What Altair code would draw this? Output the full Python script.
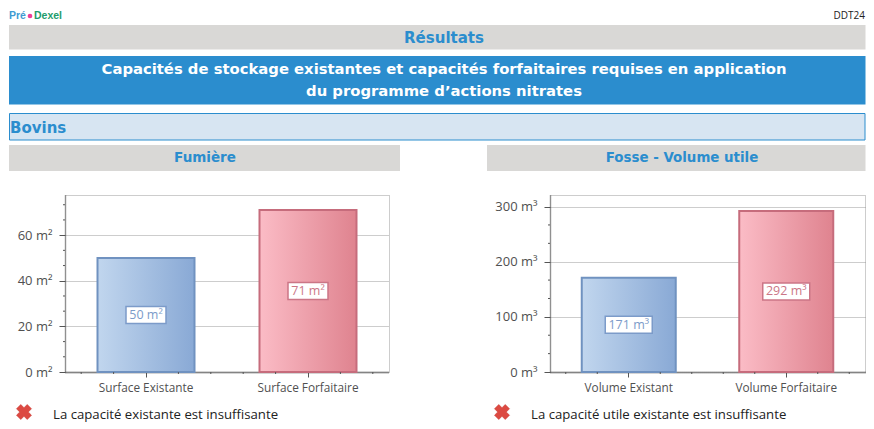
import altair as alt
import pandas as pd

# ---- chart values ----
left_categories = ["Surface Existante", "Surface Forfaitaire"]
left_values = [50, 71]
left_labels = ["50 m²", "71 m²"]
left_unit = "m²"
left_major = [0, 20, 40, 60]
left_minor = [6.67, 13.33, 26.67, 33.33, 46.67, 53.33, 66.67, 73.33]

right_categories = ["Volume Existant", "Volume Forfaitaire"]
right_values = [171, 292]
right_labels = ["171 m³", "292 m³"]
right_unit = "m³"
right_major = [0, 100, 200, 300]
right_minor = [33.3, 66.7, 133.3, 166.7, 233.3, 266.7]

minor_fracs = [0.05, 0.15, 0.35, 0.45, 0.55, 0.65, 0.85, 0.95]

TICK = "#555555"
TXT = "#505050"
BLUE = "#2B8DCE"
GREY = "#D9D8D6"
FONT = "Open Sans"
BOLD = "DejaVu Sans"
ORIGIN_X, ORIGIN_Y = 65, 195  # page position of the left plot's corner
PAGE_R = 865.5  # last usable column before the page would be shrunk

grad_blue = alt.LinearGradient(gradient="linear", x1=0, x2=1, y1=0, y2=0,
    stops=[alt.GradientStop(color="#C1D6EE", offset=0), alt.GradientStop(color="#89A9D5", offset=1)])
grad_red = alt.LinearGradient(gradient="linear", x1=0, x2=1, y1=0, y2=0,
    stops=[alt.GradientStop(color="#FBBCC6", offset=0), alt.GradientStop(color="#DF838F", offset=1)])


def box(x, x2, y, y2, fill, **kw):
    return alt.Chart(pd.DataFrame({"a": [0]})).mark_rect(fill=fill, **kw).encode(
        x=alt.value(x - ORIGIN_X), x2=alt.value(x2 - ORIGIN_X),
        y=alt.value(y - ORIGIN_Y), y2=alt.value(y2 - ORIGIN_Y))


def label(x, y, text, color, size, font=BOLD, weight="bold", align="center"):
    return alt.Chart(pd.DataFrame({"t": [text]})).mark_text(
        color=color, fontSize=size, font=font, fontWeight=weight, align=align, baseline="middle"
    ).encode(x=alt.value(x - ORIGIN_X), y=alt.value(y - ORIGIN_Y), text="t:N")


def cross(x, y):
    return alt.Chart(pd.DataFrame({"a": [0]})).mark_point(
        shape="cross", filled=True, color="#DC4A42", opacity=1, size=230, angle=45,
        stroke="#C9352E", strokeWidth=0.5
    ).encode(x=alt.value(x - ORIGIN_X), y=alt.value(y - ORIGIN_Y))


decor_back = [
    box(9, 10, 9, 10, "transparent"),
    box(9, PAGE_R, 25, 49.5, GREY),
    box(9, PAGE_R, 56, 104.5, BLUE),
    box(9.5, PAGE_R - 0.5, 113.5, 140, "#D7E5F2", stroke=BLUE, strokeWidth=1),
    box(9, 400, 145, 171, GREY),
    box(487, PAGE_R, 145, 171, GREY),
]
decor_front = [
    label(9, 16, "Pré", "#3F9BD2", 10.5, "Liberation Sans", "bold", "left"),
    alt.Chart(pd.DataFrame({"a": [0]})).mark_point(filled=True, color="#EE3E96", size=22, opacity=1).encode(
        x=alt.value(30 - ORIGIN_X), y=alt.value(16 - ORIGIN_Y)),
    label(34, 16, "Dexel", "#1E9C6C", 10.5, "Liberation Sans", "bold", "left"),
    label(PAGE_R - 0.5, 16, "DDT24", "#222222", 10, FONT, "normal", "right"),
    label(444, 38, "Résultats", BLUE, 15),
    label(444, 70, "Capacités de stockage existantes et capacités forfaitaires requises en application", "white", 14.8),
    label(444, 92, "du programme d’actions nitrates", "white", 14.8),
    label(10, 128, "Bovins", BLUE, 15, align="left"),
    label(205, 158, "Fumière", BLUE, 13.5),
    label(682, 158, "Fosse - Volume utile", BLUE, 13.4),
    cross(24, 412),
    label(53, 415, "La capacité existante est insuffisante", "#222222", 13.2, FONT, "normal", "left"),
    cross(502, 412),
    label(531, 415, "La capacité utile existante est insuffisante", "#222222", 13.2, FONT, "normal", "left"),
]


def panel(cats, vals, labs, major, minor, unit, ymax, w, h, barw, boxw, extra_back=(), extra_front=()):
    df = pd.DataFrame({"cat": cats, "val": vals, "lab": labs})
    df["mid"] = df["val"] / 2
    xs = alt.Scale(domain=cats, paddingInner=0, paddingOuter=0)
    ys = alt.Scale(domain=[0, ymax], nice=False)
    xenc = alt.X("cat:N", scale=xs, sort=None, title=None,
                 axis=alt.Axis(labelAngle=0, labelFont=FONT, labelFontSize=11.8, labelColor=TXT,
                               labelPadding=5, tickSize=5, tickColor=TICK, domainColor=TICK,
                               domainDash=[1, 1], domainWidth=2, grid=False))
    yenc = alt.Y("val:Q", scale=ys, title=None,
                 axis=alt.Axis(values=major, labelExpr=f"datum.value + ' {unit}'", labelFont=FONT,
                               labelFontSize=13, labelColor=TXT, labelPadding=7, tickSize=6,
                               tickColor=TICK, domainColor=TICK, domainDash=[1, 1], domainWidth=1.5,
                               grid=True, gridColor="#9a9a9a", gridDash=[1, 1], gridWidth=1))
    layers = list(extra_back)
    for cat, grad, stroke in zip(cats, [grad_blue, grad_red], ["#7092C0", "#C66C7C"]):
        layers.append(alt.Chart(df[df["cat"] == cat]).mark_bar(
            fill=grad, stroke=stroke, strokeWidth=2, size=barw).encode(x=xenc, y=yenc))
    for cat, stroke in zip(cats, ["#7C9BC9", "#CB7686"]):
        sub = df[df["cat"] == cat]
        layers.append(alt.Chart(sub).mark_rect(fill="white", stroke=stroke, strokeWidth=1.5,
                                               width=boxw, height=17).encode(
            x=alt.X("cat:N", scale=xs, sort=None), y=alt.Y("mid:Q", scale=ys)))
        layers.append(alt.Chart(sub).mark_text(color=stroke, font=FONT, fontSize=12.5).encode(
            x=alt.X("cat:N", scale=xs, sort=None), y=alt.Y("mid:Q", scale=ys), text="lab:N"))
    layers.append(alt.Chart(pd.DataFrame({"v": minor})).mark_rule(color=TICK, strokeWidth=1).encode(
        y=alt.Y("v:Q", scale=ys), x=alt.value(-2), x2=alt.value(0)))
    layers.append(alt.Chart(pd.DataFrame({"f": minor_fracs})).transform_calculate(
        px=f"datum.f * {w}").mark_rule(color=TICK, strokeWidth=1).encode(
        x=alt.X("px:Q", scale=None), y=alt.value(h), y2=alt.value(h + 2)))
    layers.extend(extra_front)
    return alt.layer(*layers).resolve_scale(x="shared").properties(
        width=w, height=h,
        view=alt.ViewBackground(stroke="#9a9a9a", strokeDash=[1, 1], strokeWidth=1))


left = panel(left_categories, left_values, left_labels, left_major, left_minor, left_unit,
             77.6, 324, 177, 97, 40, decor_back, decor_front)
right = panel(right_categories, right_values, right_labels, right_major, right_minor, right_unit,
              321, 315, 177, 94, 47)

chart = alt.hconcat(left, right, spacing=161, bounds="flush").properties(
    padding=0, autosize=alt.AutoSizeParams(type="pad")).configure_view(strokeWidth=0)

chart.save("out.html", embed_options={"renderer": "svg", "actions": False})
